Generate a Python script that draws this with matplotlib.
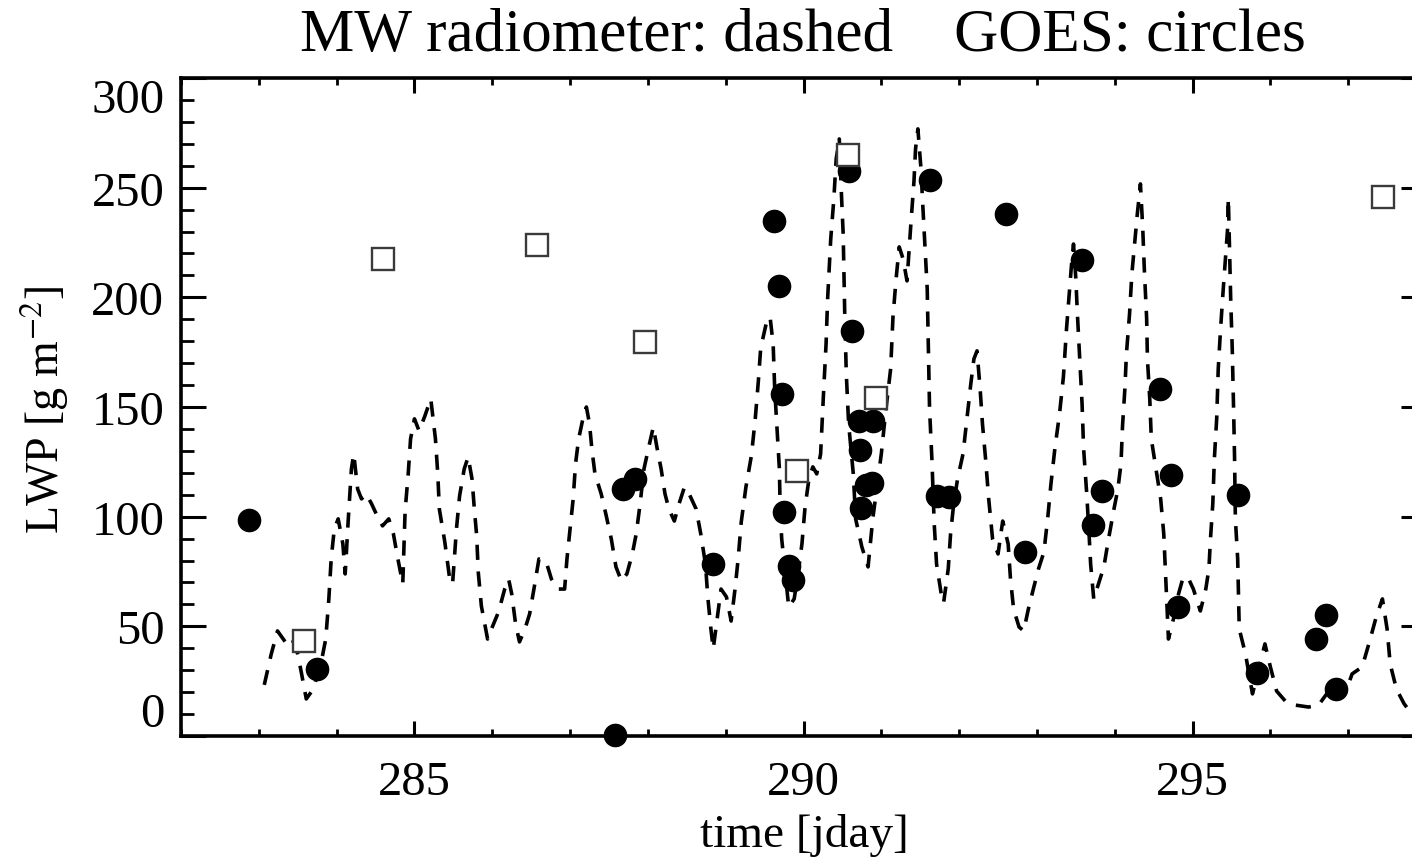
import matplotlib
matplotlib.use('Agg')
import matplotlib.pyplot as plt
from matplotlib.ticker import MultipleLocator

plt.rcParams['font.family'] = ['Liberation Serif', 'DejaVu Serif']
plt.rcParams['mathtext.fontset'] = 'stix'

# MW radiometer LWP time series (dashed)
mw_time = [283.07, 283.16, 283.24, 283.34, 283.42, 283.50, 283.55, 283.61, 283.70, 283.81,
           283.86, 283.90, 283.93, 283.97, 284.02, 284.08, 284.11, 284.15, 284.19, 284.22,
           284.27, 284.32, 284.38, 284.45, 284.51, 284.59, 284.67, 284.73, 284.78, 284.85,
           284.88, 284.92, 284.95, 285.00, 285.06, 285.13, 285.21, 285.24, 285.27, 285.30,
           285.32, 285.39, 285.45, 285.49, 285.54, 285.58, 285.64, 285.69, 285.74, 285.77,
           285.80, 285.82, 285.86, 285.94, 285.99, 286.08, 286.16, 286.21, 286.25, 286.30,
           286.35, 286.42, 286.48, 286.54, 286.60, 286.69, 286.76, 286.84, 286.93, 286.96,
           287.00, 287.04, 287.07, 287.11, 287.17, 287.21, 287.25, 287.28, 287.32, 287.40,
           287.46, 287.53, 287.59, 287.66, 287.73, 287.80, 287.85, 287.90, 287.95, 288.02,
           288.07, 288.12, 288.17, 288.22, 288.27, 288.34, 288.40, 288.47, 288.53, 288.62,
           288.68, 288.74, 288.77, 288.81, 288.84, 288.89, 288.94, 289.01, 289.07, 289.12,
           289.16, 289.20, 289.26, 289.33, 289.38, 289.42, 289.45, 289.52, 289.57, 289.61,
           289.63, 289.66, 289.69, 289.70, 289.72, 289.76, 289.81, 289.88, 289.93, 289.98,
           290.02, 290.07, 290.12, 290.17, 290.22, 290.26, 290.29, 290.31, 290.35, 290.39,
           290.42, 290.46, 290.49, 290.51, 290.52, 290.53, 290.55, 290.58, 290.64, 290.67,
           290.75, 290.83, 290.89, 290.94, 291.00, 291.06, 291.12, 291.15, 291.19, 291.23,
           291.28, 291.33, 291.38, 291.42, 291.44, 291.47, 291.51, 291.53, 291.56, 291.59,
           291.60, 291.61, 291.62, 291.65, 291.68, 291.71, 291.77, 291.80, 291.86, 291.89,
           291.93, 291.98, 292.05, 292.10, 292.15, 292.19, 292.23, 292.27, 292.30, 292.34,
           292.38, 292.43, 292.50, 292.56, 292.63, 292.66, 292.70, 292.77, 292.83, 292.89,
           292.96, 293.02, 293.09, 293.14, 293.18, 293.23, 293.29, 293.34, 293.38, 293.41,
           293.45, 293.47, 293.50, 293.52, 293.55, 293.58, 293.60, 293.64, 293.67, 293.69,
           293.73, 293.79, 293.86, 293.92, 293.99, 294.04, 294.08, 294.10, 294.13, 294.15,
           294.19, 294.22, 294.26, 294.29, 294.33, 294.36, 294.38, 294.41, 294.42, 294.45,
           294.47, 294.53, 294.59, 294.63, 294.65, 294.69, 294.77, 294.82, 294.88, 294.95,
           295.01, 295.10, 295.17, 295.21, 295.23, 295.26, 295.28, 295.31, 295.33, 295.36,
           295.39, 295.42, 295.45, 295.46, 295.49, 295.51, 295.53, 295.54, 295.55, 295.58,
           295.59, 295.60, 295.68, 295.77, 295.85, 295.93, 296.00, 296.08, 296.19, 296.32,
           296.49, 296.62, 296.75, 296.86, 296.96, 297.05, 297.18, 297.28, 297.36, 297.44,
           297.50, 297.54, 297.62, 297.72, 297.82]
mw_lwp = [23.3, 37.4, 47.9, 42.9, 45.1, 37.4, 28.3, 16.9, 21.4, 35.1,
          44.2, 62.5, 80.7, 94.4, 99.0, 87.6, 73.9, 99.0, 121.8, 128.6,
          112.6, 108.1, 110.4, 105.8, 101.2, 95.8, 99.0, 92.1, 82.1, 69.3,
          102.6, 119.5, 135.4, 144.6, 139.1, 145.5, 153.7, 144.6, 135.4, 119.5,
          103.5, 88.5, 72.5, 69.3, 94.4, 109.4, 121.8, 127.2, 117.2, 103.5,
          91.2, 74.8, 59.3, 44.2, 48.8, 56.5, 67.0, 71.6, 64.8, 51.1,
          42.9, 48.8, 55.6, 67.9, 80.7, 79.8, 71.6, 67.0, 67.0, 80.7,
          94.4, 108.1, 124.0, 135.4, 145.5, 150.0, 142.3, 130.9, 119.5, 110.4,
          101.2, 89.8, 77.1, 70.7, 73.9, 83.0, 92.1, 105.8, 121.8, 133.1,
          140.9, 130.9, 121.8, 110.4, 103.5, 98.0, 105.8, 113.5, 110.4, 103.5,
          92.1, 78.4, 63.4, 48.8, 39.7, 53.4, 67.0, 63.4, 52.4, 67.0,
          80.7, 97.6, 113.5, 127.7, 144.6, 161.9, 176.9, 187.9, 191.1, 178.7,
          158.2, 140.0, 121.8, 103.5, 89.8, 76.2, 58.8, 62.5, 73.9, 87.6,
          104.4, 117.2, 122.7, 119.5, 128.6, 158.2, 178.7, 199.3, 226.6, 244.9,
          263.1, 272.2, 244.9, 228.9, 210.7, 192.4, 165.1, 142.3, 119.5, 99.0,
          86.2, 77.1, 99.0, 112.6, 128.6, 149.1, 167.4, 191.1, 208.4, 223.0,
          217.5, 207.5, 233.5, 253.1, 267.7, 276.8, 258.5, 244.0, 224.3, 203.8,
          185.6, 167.4, 149.1, 126.3, 96.7, 78.4, 64.8, 60.6, 76.2, 92.1,
          105.8, 117.2, 128.6, 144.6, 160.5, 171.9, 175.6, 158.2, 142.3, 126.3,
          108.1, 89.8, 83.0, 98.0, 87.6, 71.6, 57.9, 49.7, 47.9, 57.9,
          67.9, 76.2, 83.9, 99.9, 114.9, 130.9, 146.8, 163.7, 185.6, 199.3,
          217.5, 224.3, 208.4, 192.4, 171.9, 151.4, 130.9, 110.4, 92.1, 78.4,
          62.5, 69.3, 77.1, 89.8, 103.5, 112.6, 124.0, 141.4, 158.2, 174.2,
          192.4, 210.7, 226.6, 238.0, 251.7, 231.2, 212.9, 190.2, 171.9, 153.7,
          135.4, 121.8, 108.1, 92.1, 76.2, 44.2, 55.6, 64.8, 72.5, 71.6,
          67.0, 57.0, 67.0, 76.2, 89.8, 105.8, 126.3, 144.6, 167.4, 185.6,
          201.6, 216.6, 231.2, 245.3, 199.3, 176.5, 144.6, 126.3, 99.0, 80.7,
          64.8, 48.8, 37.4, 19.2, 30.6, 42.0, 31.5, 20.5, 16.0, 14.1,
          13.2, 14.1, 20.5, 24.2, 19.2, 28.3, 31.5, 43.8, 54.3, 62.5,
          48.8, 32.8, 21.4, 14.6, 10.0]

# GOES retrievals (filled circles)
goes_time = [282.88, 283.75, 287.58, 287.68, 287.83, 288.84, 289.62, 289.68, 289.72, 289.75,
             289.82, 289.86, 290.59, 290.62, 290.71, 290.89, 290.72, 290.80, 290.88, 290.74,
             291.62, 291.72, 291.87, 292.60, 292.85, 293.58, 293.72, 293.84, 294.58, 294.72,
             294.81, 295.58, 295.83, 296.58, 296.72, 296.84]
goes_lwp = [98.5, 30.5, 0.5, 112.6, 117.2, 78.4, 235.0, 205.0, 156.0, 102.1,
            77.7, 71.2, 257.5, 184.5, 143.5, 143.5, 130.6, 114.5, 115.5, 104.0,
            253.5, 109.5, 109.0, 238.0, 83.8, 216.8, 96.0, 111.8, 158.0, 119.0,
            58.7, 110.0, 28.8, 44.1, 55.0, 21.5]

# other retrievals (open squares)
sq_time = [283.58, 284.59, 286.58, 287.96, 289.92, 290.57, 290.93, 297.45]
sq_lwp = [43.5, 217.5, 224.0, 179.5, 121.0, 265.0, 154.0, 245.7]

fig = plt.figure(figsize=(14.12, 8.62), dpi=100)
ax = fig.add_axes([181/1412, 125/862, 1245/1412, 658/862])

ax.plot(mw_time, mw_lwp, color='black', lw=2.6, linestyle=(0, (4.2, 3.2)))
ax.plot(goes_time, goes_lwp, 'o', color='black', ms=16, clip_on=False, zorder=3)
ax.plot(sq_time, sq_lwp, 's', mfc='white', mec='#3a3a3a', mew=1.7, ms=15.5, zorder=4)

ax.set_xlim(282, 298)
ax.set_ylim(0, 300)
ax.xaxis.set_major_locator(MultipleLocator(5))
ax.xaxis.set_minor_locator(MultipleLocator(1))
ax.yaxis.set_major_locator(MultipleLocator(50))
ax.yaxis.set_minor_locator(MultipleLocator(10))

for s in ax.spines.values():
    s.set_linewidth(2.6)

ax.tick_params(axis='x', which='major', direction='in', length=11, width=2.2,
               top=True, labelsize=35, pad=17)
ax.tick_params(axis='x', which='minor', direction='in', length=5, width=2.0, top=True)
ax.tick_params(axis='y', which='major', direction='in', length=18, width=2.2,
               right=True, labelsize=35, pad=12)
ax.tick_params(axis='y', which='minor', direction='in', length=9, width=2.0, right=True)

ax.set_xlabel('time [jday]', fontsize=34)
ax.xaxis.set_label_coords(0.5004, -0.149)
ax.xaxis.label.set_verticalalignment('center')
ax.set_ylabel('LWP [g m$^{-2}$]', fontsize=33)
ax.yaxis.set_label_coords(-0.109, 0.497)
ax.yaxis.label.set_verticalalignment('center')

fig.text(803/1412, 1 - 36/862, 'MW radiometer: dashed    GOES: circles',
         ha='center', va='center', fontsize=44)

# end labels sit inside the axis range, as in the original
fig.canvas.draw()
for lab in ax.get_yticklabels():
    if lab.get_text() == '0':
        lab.set_verticalalignment('bottom')
    elif lab.get_text() == '300':
        lab.set_verticalalignment('top')

fig.savefig('out.png', dpi=100)
